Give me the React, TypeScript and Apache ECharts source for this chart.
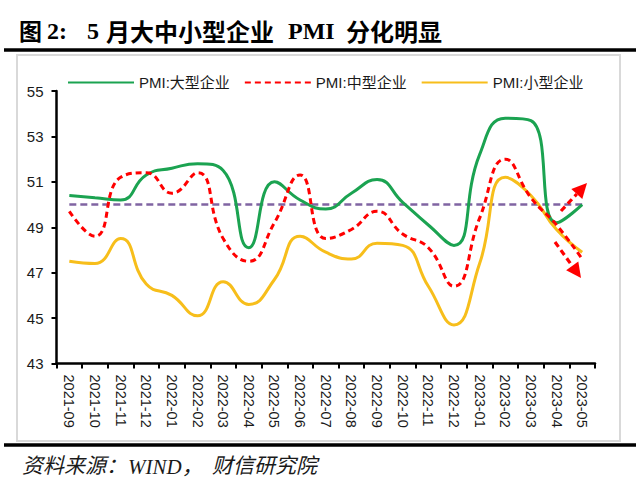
import React, { useEffect, useRef } from "react";
import * as echarts from "echarts";

const categories = [
  "2021-09", "2021-10", "2021-11", "2021-12", "2022-01", "2022-02", "2022-03",
  "2022-04", "2022-05", "2022-06", "2022-07", "2022-08", "2022-09", "2022-10",
  "2022-11", "2022-12", "2023-01", "2023-02", "2023-03", "2023-04", "2023-05",
];
const largePMI = [50.4, 50.3, 50.2, 51.3, 51.6, 51.8, 51.5, 48.1, 51.0, 50.2, 49.8, 50.5, 51.1, 50.1, 49.1, 48.2, 52.2, 53.8, 53.7, 49.2, 50.0];
const mediumPMI = [49.7, 48.6, 51.2, 51.4, 50.5, 51.4, 48.5, 47.5, 49.2, 51.3, 48.5, 48.9, 49.7, 48.7, 48.1, 46.4, 49.4, 52.0, 50.3, 49.1, 47.6];
const smallPMI = [47.5, 47.4, 48.5, 46.5, 46.0, 45.1, 46.6, 45.6, 46.7, 48.6, 47.9, 47.6, 48.3, 48.2, 46.4, 44.7, 47.4, 51.2, 50.4, 48.9, 47.9];
const baseline = categories.map(() => 50);
const seriesNames = ["PMI:大型企业", "PMI:中型企业", "PMI:小型企业"];
const yTicks = { min: 43, max: 55, interval: 2 };

const CJK = "'Noto Sans CJK SC', sans-serif";
const SERIF = "'Liberation Serif', 'Noto Sans CJK SC', serif";
const SANS = "'Liberation Sans', 'Noto Sans CJK SC', sans-serif";

function txt(text: string, x: number, y: number, size: number, family: string, extra: any = {}) {
  return {
    type: "text",
    x,
    y,
    z: 100,
    style: {
      text,
      fontSize: size,
      fontFamily: family,
      fill: "#000",
      verticalAlign: "middle",
      textVerticalAlign: "middle",
      ...extra,
    },
  };
}

function arrow(x1: number, y1: number, x2: number, y2: number) {
  const dx = x2 - x1, dy = y2 - y1;
  const len = Math.sqrt(dx * dx + dy * dy);
  const ux = dx / len, uy = dy / len;
  const hl = 15, hw = 7.5;
  const bx = x2 - ux * hl, by = y2 - uy * hl;
  const px = -uy * hw, py = ux * hw;
  return [
    {
      type: "line",
      z: 100,
      shape: { x1, y1, x2: bx, y2: by },
      style: { stroke: "#FF0000", lineWidth: 3.2, lineDash: [6, 4] },
    },
    {
      type: "polygon",
      z: 100,
      shape: { points: [[x2, y2], [bx + px, by + py], [bx - px, by - py]] },
      style: { fill: "#FF0000" },
    },
  ];
}

export default function App() {
  const ref = useRef<HTMLDivElement>(null);
  useEffect(() => {
    document.body.style.margin = "0";
    const chart = echarts.init(ref.current!, null, { renderer: "svg" });
    const option: any = {
      animation: false,
      backgroundColor: "#fff",
      grid: { left: 56.5, right: 45, top: 91, bottom: 118.5, containLabel: false },
      legend: {
        data: seriesNames,
        left: 62,
        top: 70,
        itemWidth: 66,
        itemHeight: 14,
        itemGap: 14,
        itemStyle: { opacity: 0 },
        textStyle: { fontSize: 15, color: "#1a1a1a", fontFamily: SANS },
      },
      xAxis: {
        type: "category",
        data: categories,
        boundaryGap: true,
        axisLine: { lineStyle: { color: "#000", width: 2.5 } },
        axisTick: { show: true, alignWithLabel: false, length: 5, lineStyle: { color: "#000", width: 2 } },
        axisLabel: {
          rotate: -90,
          interval: 0,
          margin: 11,
          fontSize: 14.5,
          color: "#1a1a1a",
          fontFamily: SANS,
        },
      },
      yAxis: {
        type: "value",
        min: yTicks.min,
        max: yTicks.max,
        interval: yTicks.interval,
        splitLine: { show: false },
        axisLine: { show: true, lineStyle: { color: "#000", width: 2.5 } },
        axisTick: { show: true, length: 5, lineStyle: { color: "#000", width: 2 } },
        axisLabel: { fontSize: 15, color: "#1a1a1a", fontFamily: SANS, margin: 13 },
      },
      series: [
        {
          name: "荣枯线",
          type: "line",
          data: baseline,
          symbol: "none",
          lineStyle: { color: "#8064A2", width: 2.5, type: [7, 4] },
          itemStyle: { color: "#8064A2" },
          z: 1,
        },
        {
          name: seriesNames[0],
          type: "line",
          data: largePMI,
          smooth: 0.5,
          symbol: "none",
          lineStyle: { color: "#1BA351", width: 3 },
          itemStyle: { color: "#1BA351" },
          z: 3,
        },
        {
          name: seriesNames[1],
          type: "line",
          data: mediumPMI,
          smooth: 0.5,
          symbol: "none",
          lineStyle: { color: "#FF0000", width: 3, type: [6, 4] },
          itemStyle: { color: "#FF0000" },
          z: 4,
        },
        {
          name: seriesNames[2],
          type: "line",
          data: smallPMI,
          smooth: 0.5,
          symbol: "none",
          lineStyle: { color: "#F7BE1B", width: 3 },
          itemStyle: { color: "#F7BE1B" },
          z: 2,
        },
      ],
      graphic: [
        {
          type: "rect",
          z: 0,
          shape: { x: 17, y: 55, width: 603, height: 386 },
          style: { fill: "none", stroke: "#D9D9D9", lineWidth: 2 },
        },
        { type: "line", z: 100, shape: { x1: 4, y1: 50, x2: 636, y2: 50 }, style: { stroke: "#000", lineWidth: 3.5 } },
        { type: "line", z: 100, shape: { x1: 4, y1: 445, x2: 636, y2: 445 }, style: { stroke: "#000", lineWidth: 3.5 } },
        txt("图", 19, 30, 23, CJK, { fontWeight: "bold" }),
        txt("2:", 47, 31, 24, SERIF, { fontWeight: "bold" }),
        txt("5", 87, 31, 24, SERIF, { fontWeight: "bold" }),
        txt("月大中小型企业", 106, 30, 24, CJK, { fontWeight: "bold" }),
        txt("PMI", 288, 31, 24, SERIF, { fontWeight: "bold" }),
        txt("分化明显", 346, 30, 24, CJK, { fontWeight: "bold" }),
        txt("资料来源：", 22, 466, 21, SERIF, { fontStyle: "italic", fill: "#1a1a1a" }),
        txt("WIND，", 128, 467, 21, SERIF, { fontStyle: "italic", fill: "#1a1a1a" }),
        txt("财信研究院", 212, 466, 21, SERIF, { fontStyle: "italic", fill: "#1a1a1a" }),
        ...arrow(561, 211, 587, 183),
        ...arrow(555, 242, 581, 278),
      ],
    };
    chart.setOption(option);
    return () => chart.dispose();
  }, []);
  return (
    <div
      ref={ref}
      style={{ width: 640, height: 482, position: "absolute", left: 0, top: 0 }}
    />
  );
}
